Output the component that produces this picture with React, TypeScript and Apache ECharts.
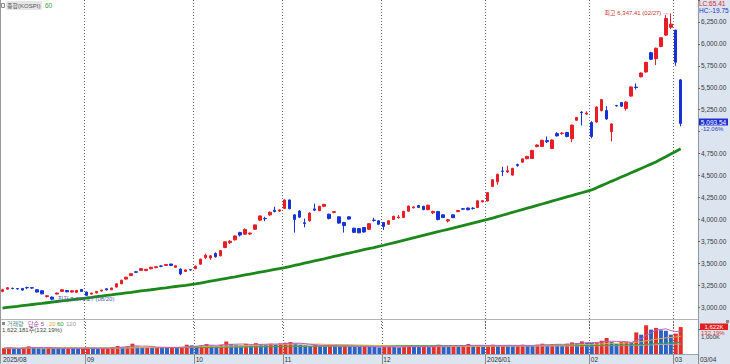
import React, { useEffect, useRef } from 'react';
import * as echarts from 'echarts';

// ---------- trading days per month ----------
const augDays = [6, 7, 8, 11, 12, 13, 14, 18, 19, 20, 21, 22, 25, 26, 27, 28, 29];
const sepDays = [1, 2, 3, 4, 5, 8, 9, 10, 11, 12, 15, 16, 17, 18, 19, 22, 23, 24, 25, 26, 29, 30];
const octDays = [1, 2, 10, 13, 14, 15, 16, 17, 20, 21, 22, 23, 24, 27, 28, 29, 30, 31];
const novDays = [3, 4, 5, 6, 7, 10, 11, 12, 13, 14, 17, 18, 19, 20, 21, 24, 25, 26, 27, 28];
const decDays = [1, 2, 3, 4, 5, 8, 9, 10, 11, 12, 15, 16, 17, 18, 19, 22, 23, 24, 26, 29, 30];
const janDays = [2, 5, 6, 7, 8, 9, 12, 13, 14, 15, 16, 19, 20, 21, 22, 23, 26, 27, 28, 29, 30];
const febDays = [2, 3, 4, 5, 6, 9, 10, 11, 12, 13, 19, 20, 23, 24, 25, 26, 27];
const marDays = [3, 4];

// ---------- OHLC [open, close, low, high] ----------
const augOHLC = [
  [3180, 3199, 3170, 3210], [3206, 3222, 3200, 3230], [3216, 3212, 3205, 3222], [3212, 3208, 3202, 3218],
  [3214, 3195, 3190, 3218], [3224, 3222, 3205, 3235], [3222, 3218, 3210, 3230], [3199, 3173, 3168, 3202],
  [3188, 3152, 3148, 3190], [3122, 3130, 3110, 3140], [3115, 3092, 3079.27, 3122], [3150, 3162, 3145, 3166],
  [3180, 3199, 3176, 3203], [3190, 3175, 3170, 3195], [3173, 3188, 3168, 3192], [3170, 3192, 3165, 3196],
  [3202, 3180, 3176, 3206],
];
const sepOHLC = [
  [3173, 3135, 3130, 3178], [3150, 3161, 3146, 3165], [3162, 3180, 3158, 3184], [3184, 3195, 3180, 3199],
  [3210, 3197, 3192, 3214], [3199, 3218, 3195, 3222], [3229, 3267, 3225, 3270], [3267, 3308, 3262, 3312],
  [3320, 3342, 3315, 3346], [3360, 3382, 3355, 3388], [3404, 3398, 3390, 3410], [3420, 3440, 3414, 3444],
  [3418, 3432, 3410, 3436], [3438, 3455, 3432, 3460], [3450, 3462, 3445, 3466], [3470, 3467, 3455, 3480],
  [3475, 3487, 3470, 3492], [3492, 3475, 3470, 3496], [3455, 3472, 3450, 3476], [3435, 3379, 3365, 3440],
  [3408, 3425, 3402, 3430], [3428, 3424, 3418, 3432],
];
const octOHLC = [
  [3440, 3468, 3432, 3475], [3490, 3548, 3485, 3552], [3565, 3592, 3548, 3610], [3560, 3585, 3540, 3595],
  [3612, 3575, 3565, 3625], [3585, 3645, 3580, 3650], [3680, 3745, 3672, 3750], [3735, 3752, 3720, 3765],
  [3768, 3812, 3760, 3818], [3850, 3822, 3805, 3860], [3832, 3885, 3825, 3898], [3834, 3845, 3822, 3850],
  [3888, 3938, 3880, 3942], [3992, 4040, 3985, 4045], [4012, 4008, 3980, 4030], [4052, 4082, 4040, 4090],
  [4105, 4090, 4080, 4145], [4095, 4108, 4085, 4115],
];
const novOHLC = [
  [4126, 4222, 4120, 4226], [4222, 4122, 4115, 4226], [4052, 4000, 3850, 4060], [4096, 4026, 4015, 4105],
  [3962, 3953, 3910, 4010], [3985, 4073, 3975, 4080], [4120, 4106, 4095, 4180], [4100, 4150, 4095, 4155],
  [4150, 4172, 4140, 4178], [4060, 4011, 4000, 4065], [4080, 4089, 4070, 4095], [4030, 3958, 3950, 4035],
  [3965, 3930, 3850, 3972], [4030, 4004, 3998, 4035], [3900, 3853, 3845, 3905], [3896, 3848, 3842, 3900],
  [3908, 3857, 3850, 3912], [3888, 3952, 3880, 3958], [3992, 3988, 3975, 4018], [3985, 3945, 3935, 3990],
];
const decOHLC = [
  [3965, 3920, 3880, 3970], [3945, 3986, 3940, 3990], [4000, 4036, 3995, 4040], [4020, 4028, 4010, 4050],
  [4022, 4092, 4015, 4098], [4094, 4152, 4088, 4158], [4132, 4143, 4125, 4150], [4158, 4137, 4130, 4165],
  [4150, 4112, 4105, 4155], [4112, 4162, 4105, 4168], [4075, 4090, 4060, 4100], [4090, 3999, 3990, 4095],
  [4052, 4022, 4015, 4058], [3982, 3996, 3965, 4005], [4052, 4020, 4015, 4058], [4090, 4102, 4082, 4108],
  [4122, 4117, 4110, 4128], [4130, 4110, 4105, 4135], [4128, 4125, 4112, 4140], [4135, 4212, 4130, 4218],
  [4200, 4214, 4195, 4222],
];
const janOHLC = [
  [4210, 4305, 4205, 4310], [4375, 4452, 4370, 4458], [4430, 4515, 4395, 4520], [4552, 4548, 4495, 4600],
  [4540, 4555, 4530, 4612], [4505, 4582, 4500, 4588], [4625, 4615, 4600, 4635], [4652, 4690, 4645, 4695],
  [4692, 4718, 4685, 4725], [4695, 4787, 4690, 4792], [4830, 4848, 4822, 4855], [4832, 4902, 4825, 4908],
  [4898, 4885, 4870, 4945], [4808, 4905, 4800, 4912], [4978, 4952, 4945, 4995], [4978, 4984, 4965, 4995],
  [4990, 4945, 4935, 4998], [4920, 5075, 4880, 5080], [5130, 5162, 5125, 5168], [5222, 5215, 5070, 5235],
  [5200, 5212, 5190, 5232],
];
const febOHLC = [
  [5105, 4945, 4925, 5120], [5110, 5280, 5100, 5290], [5240, 5365, 5230, 5372], [5240, 5145, 5135, 5290],
  [5000, 5088, 4890, 5095], [5298, 5294, 5285, 5305], [5332, 5290, 5282, 5338], [5265, 5338, 5240, 5345],
  [5405, 5510, 5400, 5515], [5508, 5503, 5480, 5550], [5625, 5668, 5618, 5675], [5680, 5790, 5672, 5795],
  [5900, 5825, 5815, 5910], [5832, 5950, 5760, 5958], [5970, 6070, 5962, 6078], [6100, 6290, 6090, 6330],
  [6190, 6225, 6170, 6347.41],
];
const marOHLC = [
  [6157, 5792, 5750, 6160], [5590, 5093.54, 5060, 5600],
];

// ---------- price 60-day moving average ----------
const ma60Price = [
  2990, 2997, 3004, 3010, 3017, 3024, 3031, 3038, 3044, 3051, 3058, 3065, 3072, 3078, 3085, 3092, 3099, 3105,
  3112, 3120, 3127, 3134, 3141, 3149, 3156, 3163, 3170, 3178, 3185, 3192, 3199, 3207, 3214, 3221, 3229, 3236, 3243, 3250, 3258, 3265,
  3275, 3286, 3296, 3306, 3316, 3327, 3337, 3347, 3358, 3368, 3378, 3388, 3399, 3409, 3419, 3430, 3440, 3450,
  3463, 3476, 3488, 3501, 3514, 3527, 3540, 3552, 3565, 3578, 3591, 3604, 3616, 3629, 3642, 3655, 3668, 3680, 3693, 3706,
  3720, 3734, 3748, 3762, 3776, 3790, 3804, 3818, 3832, 3846, 3860, 3874, 3888, 3902, 3916, 3930, 3944, 3958, 3972, 3986, 4000,
  4016, 4032, 4048, 4064, 4080, 4096, 4112, 4128, 4144, 4160, 4176, 4192, 4208, 4224, 4240, 4256, 4272, 4288, 4304, 4320, 4336,
  4360, 4385, 4409, 4434, 4458, 4483, 4507, 4532, 4556, 4581, 4605, 4630, 4655,
  4685, 4715, 4745, 4775, 4805,
];

// ---------- volume (thousand shares) ----------
const volAug = [340, 380, 330, 310, 390, 460, 420, 350, 330, 380, 350, 320, 300, 370, 360, 330, 350];
const volSep = [380, 330, 310, 340, 360, 420, 480, 430, 460, 620, 450, 400, 430, 380, 420, 390, 360, 410, 380, 430, 560, 520];
const volOct = [480, 540, 600, 520, 490, 560, 750, 600, 560, 520, 600, 540, 650, 600, 560, 620, 580, 640];
const volNov = [680, 720, 640, 560, 520, 480, 560, 500, 470, 520, 480, 450, 500, 470, 440, 420, 460, 440, 430, 400];
const volDec = [420, 460, 430, 400, 450, 480, 440, 420, 460, 430, 500, 560, 470, 450, 500, 480, 520, 600, 480, 520, 460];
const volJan = [480, 560, 520, 540, 500, 480, 520, 560, 520, 500, 560, 620, 560, 600, 580, 540, 620, 700, 650, 760, 680];
const volFeb = [663, 700, 800, 965, 720, 600, 720, 725, 715, 1300, 1165, 1730, 1470, 1570, 1430, 1400, 1165];
const volMar = [1227, 1622];

// ---------- tick labels (5,000.00 sits under the current-price marker) ----------
const priceTicks = [3000, 3250, 3500, 3750, 4000, 4250, 4500, 4750, 5250, 5500, 5750, 6000, 6250];

const FONT = '"Liberation Sans Narrow","Liberation Sans","Noto Sans CJK KR",sans-serif';
const UP = '#e61e26';
const DOWN = '#1634d6';
const PANEL = '#dbe4ef';

const months = [
  { y: 2025, m: 8, days: augDays, ohlc: augOHLC, vol: volAug },
  { y: 2025, m: 9, days: sepDays, ohlc: sepOHLC, vol: volSep },
  { y: 2025, m: 10, days: octDays, ohlc: octOHLC, vol: volOct },
  { y: 2025, m: 11, days: novDays, ohlc: novOHLC, vol: volNov },
  { y: 2025, m: 12, days: decDays, ohlc: decOHLC, vol: volDec },
  { y: 2026, m: 1, days: janDays, ohlc: janOHLC, vol: volJan },
  { y: 2026, m: 2, days: febDays, ohlc: febOHLC, vol: volFeb },
  { y: 2026, m: 3, days: marDays, ohlc: marOHLC, vol: volMar },
];

const pad = (n: number) => (n < 10 ? '0' + n : '' + n);

export default function App() {
  const ref = useRef<HTMLDivElement>(null);
  useEffect(() => {
    if (!ref.current) return;
    const chart = echarts.init(ref.current, undefined, { renderer: 'svg' });

    const cats: string[] = [];
    const labelAt: Record<number, string> = {};
    const ohlc: number[][] = [];
    const vols: number[] = [];
    months.forEach((mo) => {
      labelAt[cats.length] = cats.length === 0 || mo.m === 1 ? `${mo.y}/${pad(mo.m)}` : pad(mo.m);
      mo.days.forEach((d, k) => {
        cats.push(`${mo.y}-${pad(mo.m)}-${pad(d)}`);
        ohlc.push(mo.ohlc[k]);
        vols.push(mo.vol[k]);
      });
    });
    // empty slots on the right
    cats.push('', '', '');

    const isMonthStart = (i: number) => labelAt[i] !== undefined && i > 0;
    const isLabel = (i: number) => labelAt[i] !== undefined;

    const volData = vols.map((v, i) => ({
      value: v,
      itemStyle: { color: i === 0 || v >= vols[i - 1] ? '#e2302a' : '#2c62c6' },
    }));
    const maVol = (n: number) =>
      vols.map((_, i) => {
        const s = Math.max(0, i - n + 1);
        const w = vols.slice(s, i + 1);
        return w.reduce((a, b) => a + b, 0) / w.length;
      });

    const dotted = { color: '#6a6a6a', type: [1, 2] as any, width: 1 };
    const fmt = (v: number) => v.toLocaleString('en-US', { minimumFractionDigits: 2, maximumFractionDigits: 2 });

    const t = (text: string, x: number, y: number, fill: string, size = 6.5, align = 'left', extra: any = {}) => ({
      type: 'text',
      x,
      y,
      z: 50,
      silent: true,
      style: {
        text,
        fill,
        fontSize: size,
        fontFamily: FONT,
        align,
        textAlign: align,
        verticalAlign: 'middle',
        textVerticalAlign: 'middle',
        ...extra,
      },
    });

    const option: any = {
      animation: false,
      backgroundColor: '#ffffff',
      grid: [
        { left: 0, top: -3.154, width: 698, height: 332.31 },
        { left: 0, top: 319, width: 698, height: 35 },
      ],
      xAxis: [
        {
          type: 'category',
          gridIndex: 0,
          data: cats,
          boundaryGap: true,
          axisLine: { show: false },
          axisTick: { show: false },
          axisLabel: { show: false },
          splitLine: { show: true, interval: (i: number) => isMonthStart(i), lineStyle: dotted },
        },
        {
          type: 'category',
          gridIndex: 1,
          data: cats,
          boundaryGap: true,
          axisLine: { show: true, lineStyle: { color: '#9aa6b4', width: 1 } },
          axisTick: { show: true, interval: (i: number) => isMonthStart(i), length: 10, lineStyle: { color: '#8a8a8a' } },
          axisLabel: {
            show: true,
            interval: (i: number) => isLabel(i),
            formatter: (_v: string, i: number) => labelAt[i] || '',
            fontSize: 6.5,
            fontFamily: FONT,
            color: '#333',
            align: 'left',
            margin: 2.5,
            padding: [0, 0, 0, -1],
          },
          splitLine: { show: true, interval: (i: number) => isMonthStart(i), lineStyle: dotted },
        },
      ],
      yAxis: [
        {
          type: 'value',
          gridIndex: 0,
          position: 'right',
          min: 2750,
          max: 6500,
          interval: 250,
          axisLine: { show: true, lineStyle: { color: '#8e99a8' } },
          axisTick: { show: true, length: 2, lineStyle: { color: '#666' } },
          axisLabel: {
            formatter: (v: number) => (priceTicks.includes(v) ? fmt(v) : ''),
            fontSize: 6.5,
            fontFamily: FONT,
            color: '#3a3a3a',
            margin: 3,
          },
          splitLine: { show: false },
        },
        {
          type: 'value',
          gridIndex: 1,
          position: 'right',
          min: 0,
          max: 2108,
          interval: 1000,
          axisLine: { show: true, lineStyle: { color: '#8e99a8' } },
          axisTick: { show: false },
          axisLabel: {
            formatter: (v: number) => (v === 1000 ? '1,000K' : ''),
            fontSize: 6,
            fontFamily: FONT,
            color: '#3a3a3a',
            margin: 3,
            padding: [2, 0, 0, 0],
          },
          splitLine: { show: false },
        },
      ],
      series: [
        {
          type: 'candlestick',
          xAxisIndex: 0,
          yAxisIndex: 0,
          data: ohlc,
          barWidth: 3,
          itemStyle: { color: UP, color0: DOWN, borderColor: UP, borderColor0: DOWN, borderWidth: 1 },
          z: 3,
        },
        {
          type: 'line',
          xAxisIndex: 0,
          yAxisIndex: 0,
          data: ma60Price,
          symbol: 'none',
          lineStyle: { color: '#1c881c', width: 2.8 },
          z: 4,
        },
        {
          type: 'bar',
          xAxisIndex: 1,
          yAxisIndex: 1,
          data: volData,
          barWidth: 4,
          z: 3,
        },
        { type: 'line', xAxisIndex: 1, yAxisIndex: 1, data: maVol(120), symbol: 'none', lineStyle: { color: '#a8a8a8', width: 1 }, z: 4 },
        { type: 'line', xAxisIndex: 1, yAxisIndex: 1, data: maVol(60), symbol: 'none', lineStyle: { color: '#3fa03f', width: 1 }, z: 4 },
        { type: 'line', xAxisIndex: 1, yAxisIndex: 1, data: maVol(20), symbol: 'none', lineStyle: { color: '#e0b040', width: 1 }, z: 4 },
        { type: 'line', xAxisIndex: 1, yAxisIndex: 1, data: maVol(5), symbol: 'none', lineStyle: { color: '#c060c8', width: 1 }, z: 4 },
      ],
      graphic: {
        elements: [
          { type: 'rect', z: -10, silent: true, shape: { x: 698, y: 0, width: 32, height: 364 }, style: { fill: PANEL } },
          { type: 'rect', z: -10, silent: true, shape: { x: 0, y: 354, width: 730, height: 10 }, style: { fill: PANEL } },
          { type: 'line', z: 10, silent: true, shape: { x1: 0, y1: 319.5, x2: 698, y2: 319.5 }, style: { stroke: '#b4b4b4', lineWidth: 1 } },
          { type: 'line', z: 10, silent: true, shape: { x1: 0.5, y1: 0, x2: 0.5, y2: 364 }, style: { stroke: '#9a9a9a', lineWidth: 1 } },
          // top-left legend
          { type: 'rect', z: 40, silent: true, shape: { x: 1.5, y: 3.5, width: 3, height: 4 }, style: { fill: '#fff', stroke: '#8a8a8a', lineWidth: 1 } },
          { type: 'rect', z: 40, silent: true, shape: { x: 6, y: 1, width: 36, height: 9, r: 1 }, style: { fill: '#e6e6e6' } },
          t('종합(KOSPI)', 7, 5.5, '#555555', 6),
          t('60', 45, 5.5, '#3b9b3b', 6.5),
          // top-right
          t('LC:65.41', 699, 3, '#d42a2a', 6.5),
          t('HC:-19.75', 699, 10, '#2233cc', 6.5),
          // annotations
          t('최고 6,347.41 (02/27) →', 669, 13, '#cc3333', 6),
          t('← 최저 3,079.27 (08/20)', 50, 299, '#5060a8', 6),
          // current price marker
          { type: 'rect', z: 40, silent: true, shape: { x: 699, y: 118.5, width: 29, height: 7 }, style: { fill: '#1c30d2' } },
          t('5,093.54', 713.5, 122, '#ffffff', 6.5, 'center'),
          t('-12.06%', 701, 128.5, '#2a3bd0', 6),
          // volume legend
          { type: 'rect', z: 40, silent: true, shape: { x: 2, y: 322, width: 3, height: 3 }, style: { fill: '#8a8a8a' } },
          t('거래량', 7, 323.5, '#4a8f86', 6),
          t('단순 5', 28, 323.5, '#b03cb0', 6),
          t('20', 49, 323.5, '#d4b030', 6),
          t('60', 57, 323.5, '#3a9a3a', 6),
          t('120', 66, 323.5, '#999999', 6),
          t('1,622,181주(132.19%)', 2, 329.5, '#444444', 6),
          // volume current marker
          { type: 'rect', z: 40, silent: true, shape: { x: 700, y: 323.5, width: 28, height: 6.5 }, style: { fill: '#e02020' } },
          { type: 'rect', z: 41, silent: true, shape: { x: 726, y: 320, width: 3, height: 3 }, style: { fill: '#888' } },
          t('1,622K', 714, 326.8, '#ffffff', 6, 'center'),
          t('132.19%', 701, 332.5, '#e03030', 6),
          t('03/04', 700, 359, '#333333', 6.5),
        ],
      },
    };
    // fix annotation alignment (right-aligned at arrow tip)
    option.graphic.elements.forEach((e: any) => {
      if (e.type === 'text' && e.style.text.startsWith('최고')) {
        e.style.align = 'right';
        e.style.textAlign = 'right';
      }
    });
    chart.setOption(option);
    return () => chart.dispose();
  }, []);
  return <div ref={ref} style={{ position: 'fixed', left: 0, top: 0, width: 730, height: 364 }} />;
}
